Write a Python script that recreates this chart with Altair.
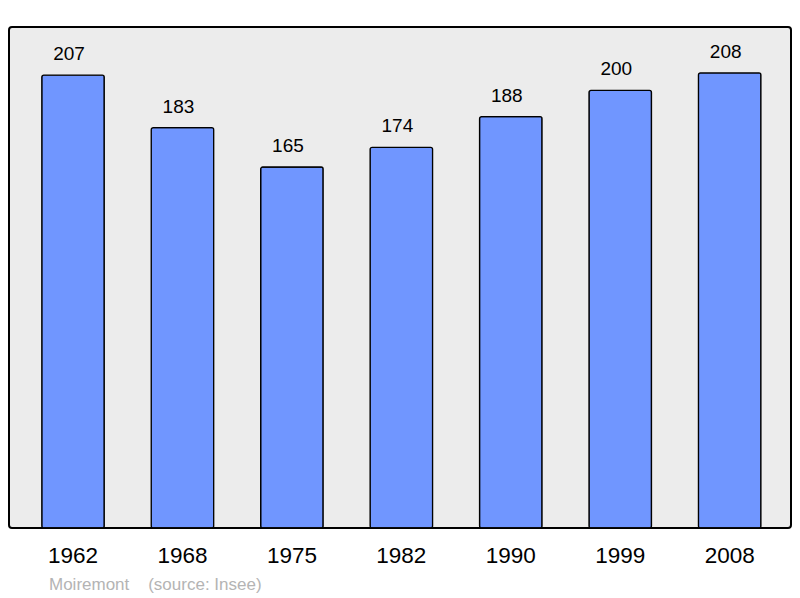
import altair as alt
import pandas as pd

years = ["1962", "1968", "1975", "1982", "1990", "1999", "2008"]
population = [207, 183, 165, 174, 188, 200, 208]

df = pd.DataFrame({"year": years, "pop": population})

FONT = "Liberation Sans"

x = alt.X(
    "year:N",
    sort=years,
    title=None,
    scale=alt.Scale(range=[9.3, 775.4], paddingInner=0.429, paddingOuter=0.2145),
    axis=alt.Axis(
        domain=False,
        ticks=False,
        labelAngle=0,
        labelFont=FONT,
        labelFontSize=22.5,
        labelColor="black",
        labelBaseline="alphabetic",
        labelPadding=34,
    ),
)
y = alt.Y("pop:Q", scale=alt.Scale(domain=[0, 229], nice=False, zero=True), axis=None)

bars = alt.Chart(df).mark_bar(
    fill="#7096ff", stroke="black", strokeWidth=1.3, cornerRadius=2
).encode(x=x, y=y)

labels = alt.Chart(df).mark_text(
    font=FONT, fontSize=19, color="black", baseline="alphabetic", dy=-15, dx=-4
).encode(x=x, y=y, text="pop:Q")

chart = (
    alt.layer(bars, labels)
    .properties(
        width=782,
        height=501,
        padding={"left": 1, "top": 19, "right": 1, "bottom": 66},
        autosize=alt.AutoSizeParams(type="none"),
        view=alt.ViewBackground(fill="#ececec", stroke="black", strokeWidth=2, cornerRadius=3),
        title=alt.TitleParams(
            "Moiremont\u00a0\u00a0\u00a0\u00a0(source: Insee)",
            orient="bottom",
            anchor="start",
            font=FONT,
            fontSize=17,
            fontWeight="normal",
            color="#b4b4b4",
            dx=40,
            offset=10,
        ),
    )
    .configure(background="white")
)

chart.save("out.html", embed_options={"renderer": "svg", "actions": False})
